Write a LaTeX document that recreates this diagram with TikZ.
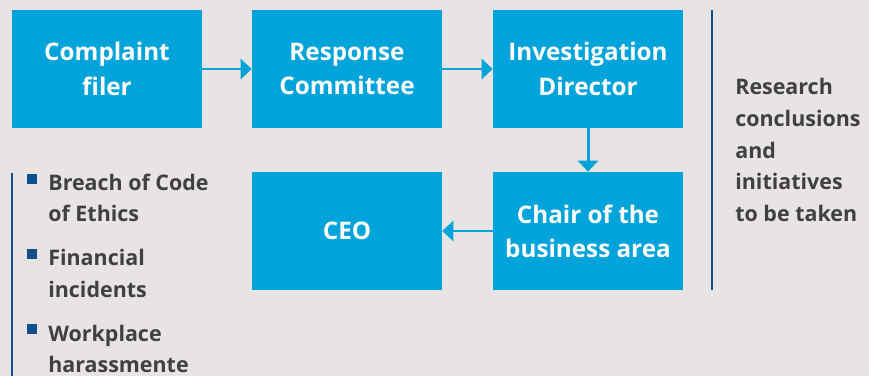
\documentclass[tikz,border=0pt]{standalone}
\usepackage{fontspec}
\setmainfont{Open Sans}
\usepackage{tikz}
\usetikzlibrary{arrows.meta}

\definecolor{bggray}{RGB}{232,228,227}
\definecolor{boxblue}{RGB}{0,163,218}
\definecolor{darkline}{RGB}{16,80,140}
\definecolor{textgray}{RGB}{64,64,64}

\tikzset{
  box/.style={fill=boxblue, text=white, minimum width=3.8cm, minimum height=2.36cm,
    inner sep=0pt, align=center, font=\bfseries\fontsize{13.8}{19.5}\selectfont},
  link/.style={boxblue, line width=1.7pt, -{Triangle[length=0.22cm,width=0.4cm]}},
  side/.style={text=textgray, align=left, inner sep=0pt,
    font=\bfseries\fontsize{12.2}{18}\selectfont},
  bullet/.style={fill=darkline, minimum size=0.2cm, inner sep=0pt}
}

\begin{document}
\begin{tikzpicture}[x=0.02cm,y=-0.02cm]
      \useasboundingbox (0,0) rectangle (869,376);
      \fill[bggray] (0,0) rectangle (869,376);

      \node[box] (filer) at (107,69) {Complaint\\filer};
      \node[box] (committee) at (347,69) {Response\\Committee};
      \node[box] (director) at (588,69) {Investigation\\Director};
      \node[box] (chair) at (588,231) {Chair of the\\business area};
      \node[box] (ceo) at (347,231) {CEO};

      \draw[link] (filer) -- (committee);
      \draw[link] (committee) -- (director);
      \draw[link] (director) -- (chair);
      \draw[link] (chair) -- (ceo);

      % right column
      \draw[darkline, line width=1.3pt] (712,10) -- (712,290);
      \node[side, anchor=west] (result) at (735,150) {Research\\conclusions\\and\\initiatives\\to be taken};

      % left list
      \draw[darkline, line width=1.3pt] (12,173) -- (12,376);
      \node[bullet] (b1) at (32,179) {};
      \node[bullet] (b2) at (32,254) {};
      \node[bullet] (b3) at (32,329) {};
      \node[side, anchor=west] (breach) at (48,198) {Breach of Code\\of Ethics};
      \node[side, anchor=west] (financial) at (48,273.5) {Financial\\incidents};
      \node[side, anchor=west] (harass) at (48,349) {Workplace\\harassmente};
\end{tikzpicture}
\end{document}
